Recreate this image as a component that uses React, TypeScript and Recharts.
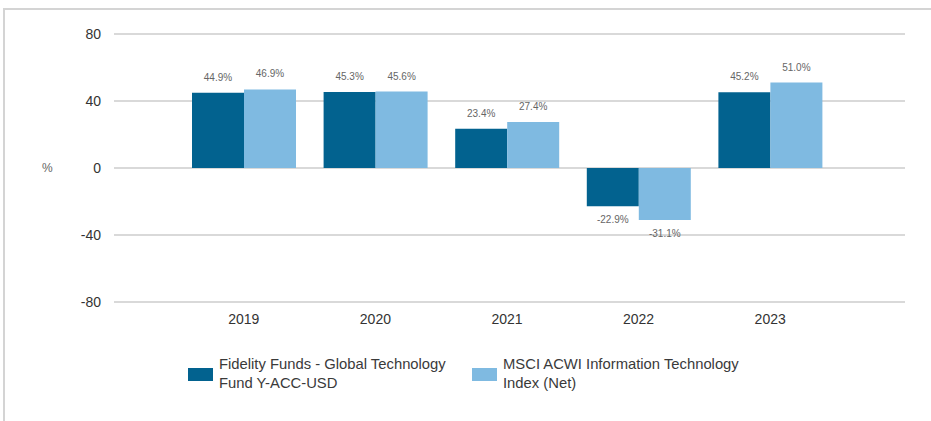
import { Bar, BarChart, CartesianGrid, LabelList, XAxis, YAxis } from "recharts";

const years = ["2019", "2020", "2021", "2022", "2023"];
const fundReturns = [44.9, 45.3, 23.4, -22.9, 45.2];
const indexReturns = [46.9, 45.6, 27.4, -31.1, 51.0];
const yTicks = [-80, -40, 0, 40, 80];

const FUND_NAME = "Fidelity Funds - Global Technology Fund Y-ACC-USD";
const INDEX_NAME = "MSCI ACWI Information Technology Index (Net)";

const DARK = "#02628f";
const LIGHT = "#7fbae1";
const FONT = "'Liberation Sans', Arial, sans-serif";

const rows = years.map((year, i) => ({
  year,
  fund: fundReturns[i],
  index: indexReturns[i],
}));

// value labels: above positive bars, below negative ones
function ValueLabel(props: any) {
  const { x, y, width, height, value } = props;
  const top = Math.min(y, y + height);
  const bottom = Math.max(y, y + height);
  const ty = value < 0 ? bottom + 17 : top - 12;
  return (
    <text x={x + width / 2} y={ty} textAnchor="middle" fontSize={10} fill="#666" fontFamily={FONT}>
      {value.toFixed(1)}%
    </text>
  );
}

function LegendItem({ color, lines, left }: { color: string; lines: string[]; left: number }) {
  return (
    <div style={{ position: "absolute", left, top: 355, display: "flex", alignItems: "center" }}>
      <div style={{ width: 25, height: 13, background: color, marginRight: 6 }} />
      <div style={{ fontSize: 14.8, lineHeight: "19px", color: "#3a3a3a" }}>
        {lines.map((l) => (
          <div key={l}>{l}</div>
        ))}
      </div>
    </div>
  );
}

export default function App() {
  return (
    <div
      style={{
        position: "absolute",
        left: 0,
        top: 0,
        width: 931,
        height: 421,
        background: "#fff",
        fontFamily: FONT,
      }}
    >
      <div style={{ position: "absolute", left: 3, top: 8, right: 0, height: 2, background: "#d4d4d4" }} />
      <div style={{ position: "absolute", left: 3, top: 8, bottom: 0, width: 2, background: "#d4d4d4" }} />
      <div style={{ position: "absolute", left: 0, top: 0 }}>
        <BarChart
          width={931}
          height={345}
          data={rows}
          margin={{ top: 34, right: 26, left: 0, bottom: 13 }}
          barGap={0}
          barSize={52}
        >
          <CartesianGrid vertical={false} stroke="#d9d9d9" strokeWidth={2} />
          <XAxis
            dataKey="year"
            axisLine={false}
            tickLine={false}
            tickSize={0}
            tickMargin={12}
            padding={{ left: 64, right: 69 }}
            height={30}
            tick={{ fill: "#333", fontSize: 14, fontFamily: FONT }}
          />
          <YAxis
            domain={[-80, 80]}
            ticks={yTicks}
            axisLine={false}
            tickLine={false}
            tickSize={0}
            tickMargin={13}
            width={114}
            tick={{ fill: "#333", fontSize: 14, fontFamily: FONT }}
            label={{
              value: "%",
              position: "insideLeft",
              offset: 42,
              fill: "#666",
              fontSize: 12,
              fontFamily: FONT,
            }}
          />
          <Bar dataKey="fund" name={FUND_NAME} fill={DARK} isAnimationActive={false}>
            <LabelList dataKey="fund" content={ValueLabel} />
          </Bar>
          <Bar dataKey="index" name={INDEX_NAME} fill={LIGHT} isAnimationActive={false}>
            <LabelList dataKey="index" content={ValueLabel} />
          </Bar>
        </BarChart>
      </div>
      <LegendItem color={DARK} left={188} lines={["Fidelity Funds - Global Technology", "Fund Y-ACC-USD"]} />
      <LegendItem color={LIGHT} left={472} lines={["MSCI ACWI Information Technology", "Index (Net)"]} />
    </div>
  );
}
